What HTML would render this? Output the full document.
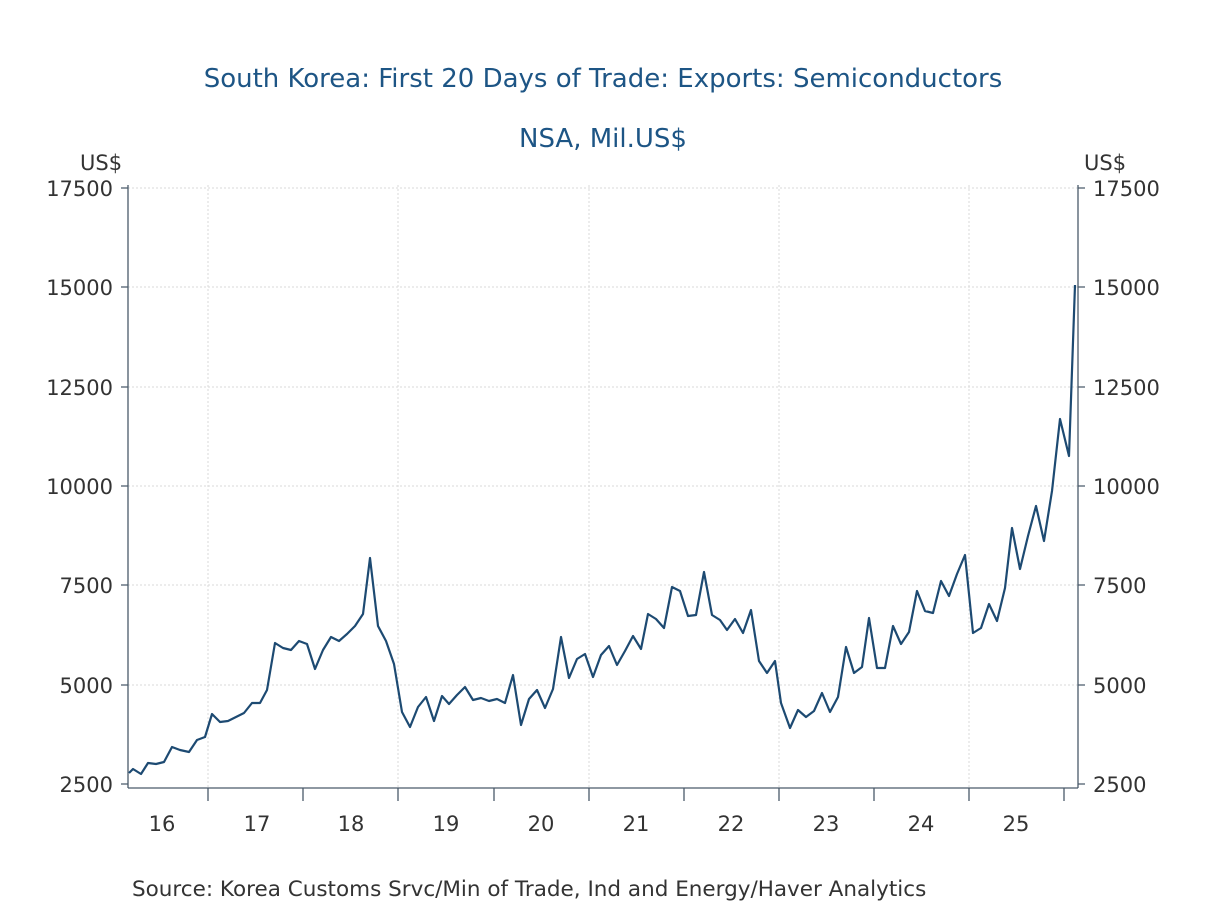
<!DOCTYPE html>
<html><head><meta charset="utf-8"><style>
body{margin:0;background:#fff;}
svg text{font-family:"DejaVu Sans","Liberation Sans",sans-serif;}
</style></head><body>
<svg width="1208" height="906" viewBox="0 0 1208 906" xmlns="http://www.w3.org/2000/svg">
<rect width="1208" height="906" fill="#fff"/>
<text x="603" y="87" text-anchor="middle" font-size="26" fill="#1d5585">South Korea: First 20 Days of Trade: Exports: Semiconductors</text>
<text x="603" y="147" text-anchor="middle" font-size="26" fill="#1d5585">NSA, Mil.US$</text>
<g stroke="#dadada" stroke-width="1" stroke-dasharray="2,2">
<line x1="128" x2="1078" y1="188" y2="188"/><line x1="128" x2="1078" y1="287" y2="287"/>
<line x1="128" x2="1078" y1="387" y2="387"/><line x1="128" x2="1078" y1="486" y2="486"/>
<line x1="128" x2="1078" y1="585" y2="585"/><line x1="128" x2="1078" y1="685" y2="685"/>
<line x1="208" x2="208" y1="185" y2="787"/><line x1="398" x2="398" y1="185" y2="787"/>
<line x1="589" x2="589" y1="185" y2="787"/><line x1="779" x2="779" y1="185" y2="787"/>
<line x1="969" x2="969" y1="185" y2="787"/>
</g>
<g stroke="#4a5a6a" stroke-width="1.3" fill="none">
<line x1="128" y1="185" x2="128" y2="788"/><line x1="1078" y1="185" x2="1078" y2="788"/>
<line x1="128" y1="788" x2="1078" y2="788"/>
<path d="M121 188H128M121 287H128M121 387H128M121 486H128M121 585H128M121 685H128M121 784H128"/>
<path d="M1078 188H1085M1078 287H1085M1078 387H1085M1078 486H1085M1078 585H1085M1078 685H1085M1078 784H1085"/>
<path d="M208 788V801M303 788V801M398 788V801M494 788V801M589 788V801M684 788V801M779 788V801M874 788V801M969 788V801M1064 788V801"/>
</g>
<g font-size="21" fill="#333">
<text x="80" y="170">US$</text><text x="1084" y="170">US$</text>
<g text-anchor="end">
<text x="113" y="196">17500</text><text x="113" y="295">15000</text><text x="113" y="395">12500</text>
<text x="113" y="494">10000</text><text x="113" y="593">7500</text><text x="113" y="693">5000</text><text x="113" y="792">2500</text>
</g>
<g>
<text x="1093" y="196">17500</text><text x="1093" y="295">15000</text><text x="1093" y="395">12500</text>
<text x="1093" y="494">10000</text><text x="1093" y="593">7500</text><text x="1093" y="693">5000</text><text x="1093" y="792">2500</text>
</g>
<g text-anchor="middle">
<text x="162" y="831">16</text><text x="257" y="831">17</text><text x="351" y="831">18</text><text x="446" y="831">19</text>
<text x="541" y="831">20</text><text x="636" y="831">21</text><text x="731" y="831">22</text><text x="826" y="831">23</text>
<text x="921" y="831">24</text><text x="1016" y="831">25</text>
</g>
<text x="132" y="896" font-size="21.5">Source:  Korea Customs Srvc/Min of Trade, Ind and Energy/Haver Analytics</text>
</g>
<polyline fill="none" stroke="#1d4a72" stroke-width="2.2" stroke-linejoin="round" points="129,773 133,769 141,774 148,763 156,764 164,762 172,747 180,750 189,752 197,740 205,737 212,714 220,722 228,721 236,717 244,713 252,703 260,703 267,690 275,643 283,648 291,650 299,641 307,644 315,669 323,650 331,637 339,641 347,634 355,626 363,614 370,558 378,626 386,641 394,664 402,712 410,727 418,707 426,697 434,721 442,696 449,704 457,695 465,687 473,700 481,698 489,701 497,699 505,703 513,675 521,725 529,699 537,690 545,708 553,689 561,637 569,678 577,659 585,654 593,677 601,655 609,646 617,665 625,651 633,636 641,649 648,614 656,619 664,628 672,587 680,591 688,616 696,615 704,572 712,615 720,620 727,630 735,619 743,633 751,610 759,661 767,673 775,661 781,703 790,728 798,710 806,717 814,711 822,693 830,712 838,697 846,647 854,673 862,667 869,618 877,668 885,668 893,626 901,644 909,632 917,591 925,611 933,613 941,581 949,596 957,574 965,555 973,633 981,628 989,604 997,621 1005,588 1012,528 1020,569 1028,536 1036,506 1044,541 1052,491 1060,419 1069,456 1075,285"/>
</svg>
</body></html>
